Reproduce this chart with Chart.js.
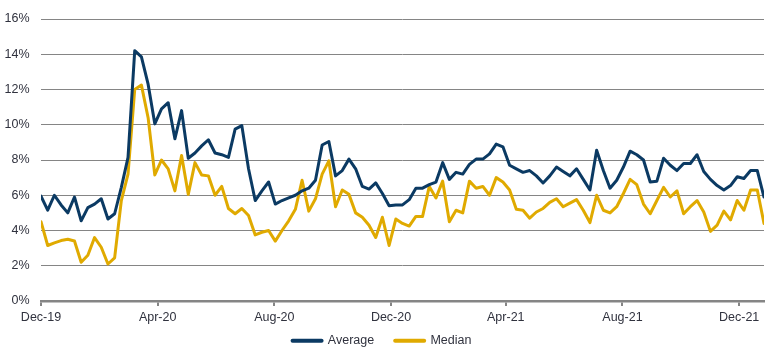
<!DOCTYPE html>
<html>
<head>
<meta charset="utf-8">
<script src="https://cdn.jsdelivr.net/npm/chart.js@4/dist/chart.umd.min.js"></script>
<style>
  html, body { margin: 0; padding: 0; background: #fff; overflow: hidden; }
  #wrap { width: 770px; height: 357px; position: relative; }
</style>
</head>
<body>
<div id="wrap"><canvas id="chart"></canvas></div>
<script>
// weekly observations, first one on 1 Dec 2019
const average = [
  5.95, 5.15, 6.0, 5.45, 5.0, 5.9, 4.55, 5.3, 5.5, 5.8,
  4.65, 4.95, 6.45, 8.15, 14.2, 13.85, 12.3, 10.05, 10.9, 11.25,
  9.2, 10.8, 8.1, 8.4, 8.8, 9.15, 8.4, 8.3, 8.15, 9.75,
  9.95, 7.5, 5.7, 6.25, 6.75, 5.5, 5.7, 5.85, 6.0, 6.25,
  6.4, 6.85, 8.85, 9.05, 7.1, 7.4, 8.05, 7.5, 6.5, 6.35,
  6.7, 6.1, 5.4, 5.45, 5.45, 5.75, 6.4, 6.4, 6.6, 6.75,
  7.85, 6.9, 7.3, 7.2, 7.75, 8.05, 8.05, 8.35, 8.9, 8.75,
  7.7, 7.5, 7.3, 7.4, 7.1, 6.7, 7.1, 7.6, 7.35, 7.1,
  7.5, 6.9, 6.3, 8.55, 7.4, 6.4, 6.85, 7.6, 8.5, 8.3,
  8.0, 6.75, 6.8, 8.1, 7.7, 7.4, 7.8, 7.8, 8.3, 7.35,
  6.9, 6.55, 6.3, 6.55, 7.05, 6.95, 7.4, 7.4, 5.9
];
const median = [
  4.5, 3.15, 3.3, 3.43, 3.5, 3.4, 2.2, 2.6, 3.6, 3.05,
  2.1, 2.45, 5.7, 7.2, 12.0, 12.25, 10.4, 7.15, 8.0, 7.5,
  6.25, 8.25, 6.05, 7.85, 7.15, 7.1, 6.0, 6.5, 5.25, 4.95,
  5.25, 4.85, 3.75, 3.9, 4.0, 3.4, 4.0, 4.55, 5.2, 6.85,
  5.1, 5.8, 7.2, 7.95, 5.35, 6.3, 6.05, 5.0, 4.75, 4.3,
  3.6, 4.75, 3.15, 4.65, 4.4, 4.25, 4.8, 4.8, 6.5, 5.85,
  6.8, 4.5, 5.15, 5.0, 6.8, 6.4, 6.5, 6.0, 7.0, 6.75,
  6.3, 5.2, 5.15, 4.7, 5.05, 5.25, 5.6, 5.8, 5.35, 5.55,
  5.75, 5.15, 4.45, 6.0, 5.15, 5.0, 5.35, 6.1, 6.9, 6.6,
  5.5, 4.95, 5.7, 6.45, 5.9, 6.25, 4.95, 5.35, 5.7, 5.05,
  3.95, 4.3, 5.1, 4.6, 5.7, 5.15, 6.3, 6.3, 4.4
];
// days since 1 Dec 2019 for the axis labels
const tickDays = [0, 122, 244, 366, 486, 608, 730];
const tickLabels = ["Dec-19", "Apr-20", "Aug-20", "Dec-20", "Apr-21", "Aug-21", "Dec-21"];
const yTicks = [0, 2, 4, 6, 8, 10, 12, 14, 16];

const toPoints = (values) => values.map((v, i) => ({ x: i * 7, y: v }));

const FONT = "'Liberation Sans', Arial, sans-serif";
const TEXT = "#30323e";
const GRID = "#858585";

// x axis is kept short so the legend sits low; let its labels draw past the box
const unclipXLabels = {
  id: "unclipXLabels",
  afterLayout(chart) {
    chart.scales.x.bottom = chart.height;
  },
};

const ctx = document.getElementById("chart").getContext("2d");
new Chart(ctx, {
  type: "line",
  data: {
    datasets: [
      {
        label: "Average",
        data: toPoints(average),
        borderColor: "#0b3a63",
        backgroundColor: "#0b3a63",
        borderWidth: 3,
        pointRadius: 0,
        tension: 0,
        borderJoinStyle: "round",
        borderCapStyle: "round",
      },
      {
        label: "Median",
        data: toPoints(median),
        borderColor: "#e0aa00",
        backgroundColor: "#e0aa00",
        borderWidth: 3,
        pointRadius: 0,
        tension: 0,
        borderJoinStyle: "round",
        borderCapStyle: "round",
      },
    ],
  },
  plugins: [unclipXLabels],
  options: {
    responsive: true,
    maintainAspectRatio: false,
    animation: false,
    layout: { padding: { top: 13, right: 6, left: 0, bottom: 0 } },
    scales: {
      x: {
        type: "linear",
        min: 0,
        max: (average.length - 1) * 7,
        afterBuildTicks: (scale) => {
          scale.ticks = tickDays.map((d) => ({ value: d }));
        },
        afterFit: (scale) => {
          scale.height = 12.5;
        },
        ticks: {
          autoSkip: false,
          maxRotation: 0,
          padding: 4,
          color: TEXT,
          font: { family: FONT, size: 12.5 },
          callback: (value) => tickLabels[tickDays.indexOf(value)],
        },
        grid: {
          drawOnChartArea: false,
          drawTicks: true,
          tickLength: 5,
          color: GRID,
          lineWidth: 2,
        },
        border: { color: GRID, width: 2.5 },
      },
      y: {
        min: 0,
        max: 16,
        afterBuildTicks: (scale) => {
          scale.ticks = yTicks.map((v) => ({ value: v }));
        },
        afterFit: (scale) => {
          scale.width = 41;
        },
        ticks: {
          padding: 11.5,
          color: TEXT,
          font: { family: FONT, size: 12.5 },
          callback: (value) => value + "%",
        },
        grid: { color: GRID, lineWidth: 1, drawTicks: false },
        border: { display: false },
      },
    },
    plugins: {
      legend: {
        position: "bottom",
        labels: {
          usePointStyle: true,
          pointStyle: "line",
          pointStyleWidth: 29,
          padding: 21,
          color: TEXT,
          font: { family: FONT, size: 12.5 },
          generateLabels: (chart) =>
            Chart.defaults.plugins.legend.labels.generateLabels(chart).map((item) => ({
              ...item,
              lineWidth: 4,
              lineCap: "round",
            })),
        },
      },
      tooltip: { enabled: false },
    },
  },
});
</script>
</body>
</html>
